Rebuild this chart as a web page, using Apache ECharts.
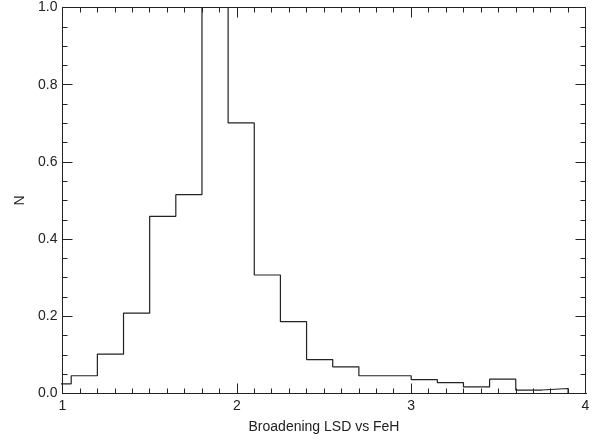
<!DOCTYPE html>
<html>
<head>
<meta charset="utf-8">
<script src="https://cdn.jsdelivr.net/npm/echarts@6/dist/echarts.min.js"></script>
<style>html,body{margin:0;padding:0;background:#fff}#c{width:596px;height:443px}</style>
</head>
<body>
<div id="c"></div>
<script>
// Histogram bins: left edges and normalized counts
var binLeft = [0.90, 1.05, 1.20, 1.35, 1.50, 1.65, 1.80, 1.95, 2.10, 2.25, 2.40, 2.55, 2.70, 2.85, 3.00, 3.15, 3.30, 3.45, 3.60, 3.75, 3.90];
var binValues = [0.025, 0.046, 0.102, 0.208, 0.459, 0.515, 1.000, 0.701, 0.307, 0.186, 0.088, 0.069, 0.046, 0.046, 0.036, 0.028, 0.017, 0.037, 0.009, 0.013, 0.000];
var binWidth = 0.15;
var xTicks = [1, 2, 3, 4];
var yTicks = [0.0, 0.2, 0.4, 0.6, 0.8, 1.0];
var xTitle = 'Broadening LSD vs FeH';
var yTitle = 'N';

var stepData = binLeft.map(function (x, i) { return [x, binValues[i]]; });
stepData.push([binLeft[binLeft.length - 1] + binWidth, binValues[binValues.length - 1]]);

var font = 'Liberation Sans, Arial, Helvetica, sans-serif';
var ink = '#222';
var fs = 14;
function axisCommon(show) {
  return {
    axisLine: { show: true, onZero: false, lineStyle: { color: ink, width: 1 } },
    axisTick: { show: true, inside: true, length: 10, lineStyle: { color: ink, width: 1 } },
    minorTick: { show: true, length: 5, lineStyle: { color: ink, width: 1 } },
    splitLine: { show: false },
    axisLabel: { show: show, color: ink, fontFamily: font, fontSize: fs }
  };
}

var chart = echarts.init(document.getElementById('c'), null, { renderer: 'canvas' });
var xb = Object.assign({ type: 'value', position: 'bottom', min: xTicks[0], max: xTicks[xTicks.length - 1], interval: 1,
  name: xTitle, nameLocation: 'middle', nameGap: 27, nameTextStyle: { color: ink, fontFamily: font, fontSize: fs } }, axisCommon(true));
xb.minorTick.splitNumber = 10;
xb.axisLabel.margin = 6;
var xt = Object.assign({ type: 'value', position: 'top', min: xTicks[0], max: xTicks[xTicks.length - 1], interval: 1 }, axisCommon(false));
xt.minorTick.splitNumber = 10;
var yl = Object.assign({ type: 'value', position: 'left', min: yTicks[0], max: yTicks[yTicks.length - 1], interval: 0.2,
  name: yTitle, nameLocation: 'middle', nameGap: 33, nameRotate: 90, nameTextStyle: { color: ink, fontFamily: font, fontSize: fs } }, axisCommon(true));
yl.minorTick.splitNumber = 4;
yl.axisLabel.margin = 5;
yl.axisLabel.formatter = function (v) { return v.toFixed(1); };
var yr = Object.assign({ type: 'value', position: 'right', min: yTicks[0], max: yTicks[yTicks.length - 1], interval: 0.2 }, axisCommon(false));
yr.minorTick.splitNumber = 4;

chart.setOption({
  animation: false,
  backgroundColor: '#fff',
  grid: { left: 62.5, right: 10.5, top: 7.5, bottom: 49.5, containLabel: false },
  xAxis: [xb, xt],
  yAxis: [yl, yr],
  series: [{
    type: 'line',
    xAxisIndex: 0, yAxisIndex: 0,
    step: 'end',
    data: stepData,
    showSymbol: false,
    clip: true,
    lineStyle: { color: '#222', width: 1.2 }
  }]
});
</script>
</body>
</html>
